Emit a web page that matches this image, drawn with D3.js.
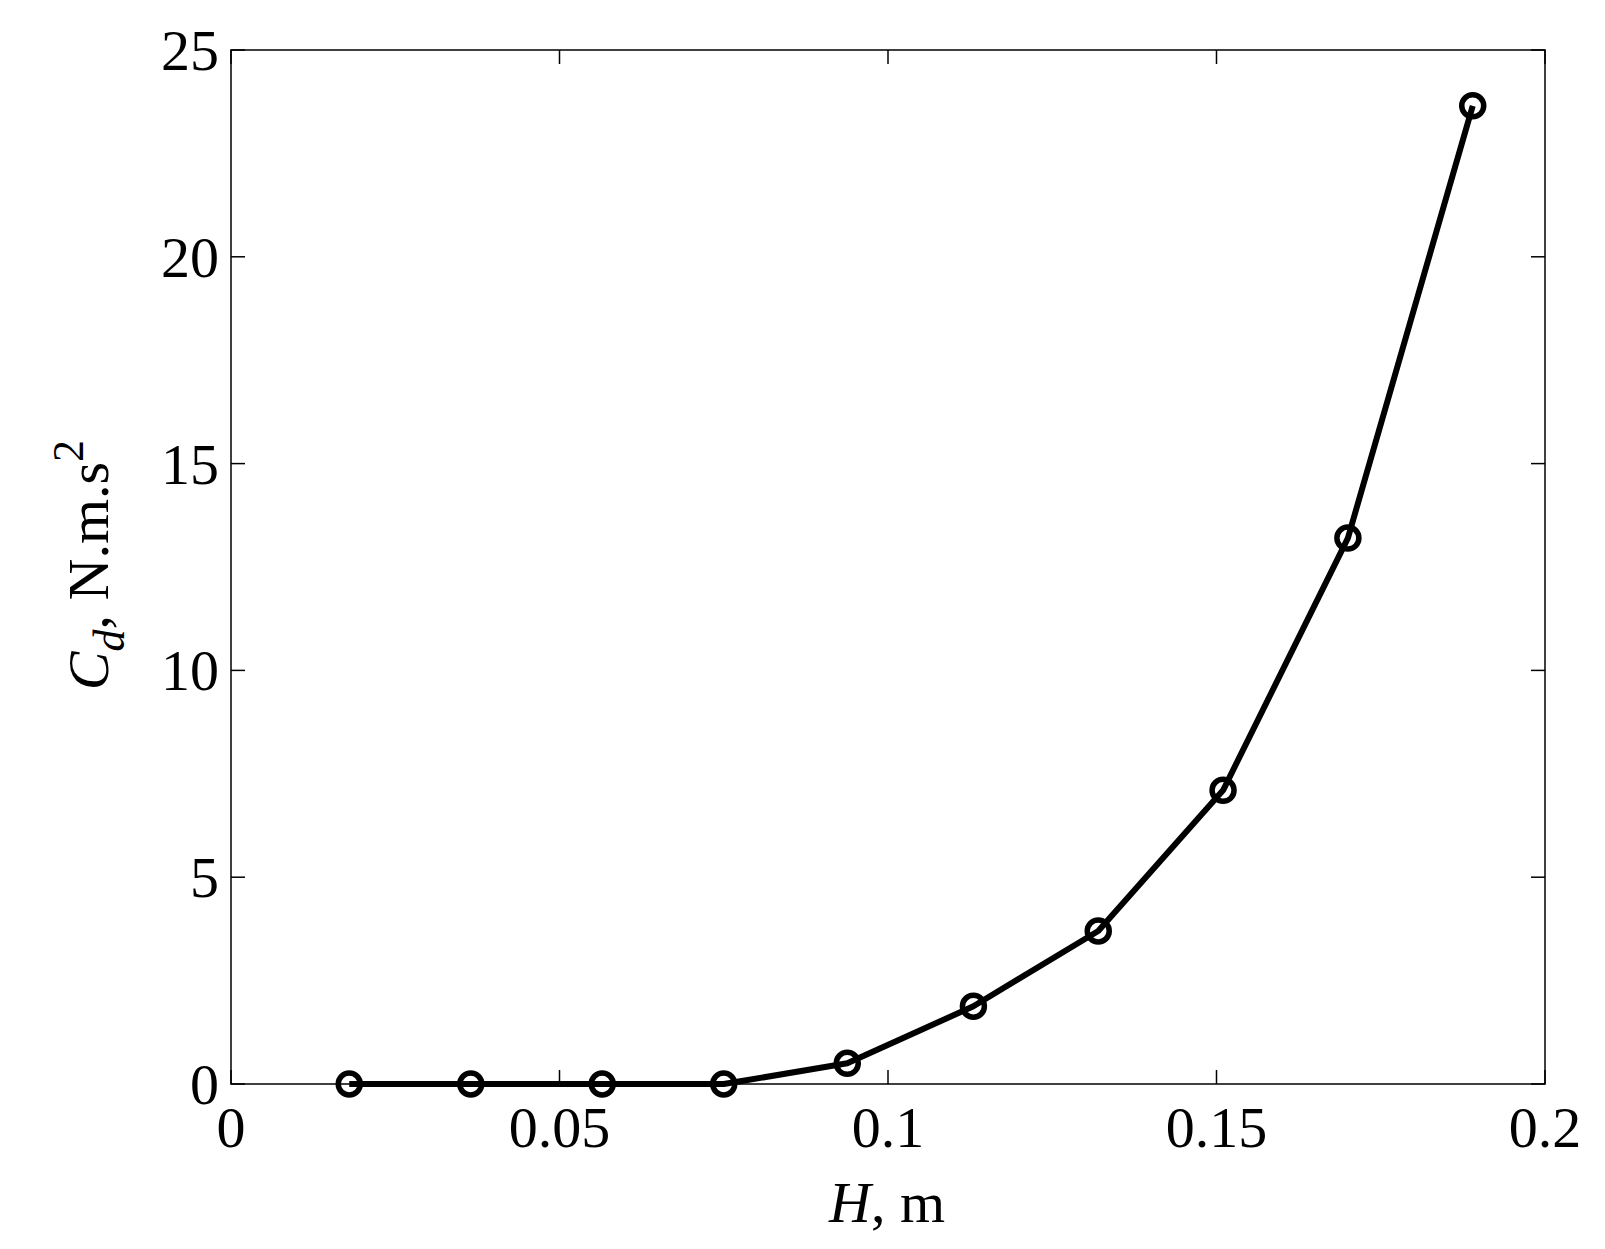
<!DOCTYPE html>
<html><head><meta charset="utf-8">
<script src="https://cdn.jsdelivr.net/npm/d3@7"></script>
<style>body{margin:0;background:#fff}</style></head>
<body><svg id="c" width="1605" height="1249"></svg>
<script>
const hValues=[0.018,0.0365,0.0565,0.075,0.0938,0.113,0.132,0.151,0.170,0.189];
const cdValues=[0,0,0,0,0.5,1.88,3.7,7.1,13.2,23.65];
const xTicks=[0,0.05,0.1,0.15,0.2];
const yTicks=[0,5,10,15,20,25];
const svg=d3.select("#c");
const L=231,R=1545,T=50,B=1084;
const x=d3.scaleLinear().domain([0,0.2]).range([L,R]);
const y=d3.scaleLinear().domain([0,25]).range([B,T]);
const font="'Liberation Serif','Times New Roman',serif";
const fs=58;
svg.append("rect").attr("x",L).attr("y",T).attr("width",R-L).attr("height",B-T).attr("fill","none").attr("stroke","#000").attr("stroke-width",1.5);
const tl=14;
xTicks.forEach(t=>{
 svg.append("line").attr("x1",x(t)).attr("x2",x(t)).attr("y1",B).attr("y2",B-tl).attr("stroke","#000").attr("stroke-width",1.5);
 svg.append("line").attr("x1",x(t)).attr("x2",x(t)).attr("y1",T).attr("y2",T+tl).attr("stroke","#000").attr("stroke-width",1.5);
 svg.append("text").attr("x",x(t)).attr("y",B+63).attr("text-anchor","middle").attr("font-family",font).attr("font-size",fs).text(t);
});
yTicks.forEach(t=>{
 svg.append("line").attr("x1",L).attr("x2",L+tl).attr("y1",y(t)).attr("y2",y(t)).attr("stroke","#000").attr("stroke-width",1.5);
 svg.append("line").attr("x1",R).attr("x2",R-tl).attr("y1",y(t)).attr("y2",y(t)).attr("stroke","#000").attr("stroke-width",1.5);
 svg.append("text").attr("x",L-12).attr("y",y(t)+20).attr("text-anchor","end").attr("font-family",font).attr("font-size",fs).text(t);
});
const data=hValues.map((h,i)=>[h,cdValues[i]]);
svg.append("path").datum(data).attr("d",d3.line().x(d=>x(d[0])).y(d=>y(d[1]))).attr("fill","none").attr("stroke","#000").attr("stroke-width",6).attr("stroke-linejoin","round");
svg.selectAll("circle").data(data).join("circle").attr("cx",d=>x(d[0])).attr("cy",d=>y(d[1])).attr("r",11).attr("fill","none").attr("stroke","#000").attr("stroke-width",5.5);
svg.append("text").attr("x",887).attr("y",1222).attr("text-anchor","middle").attr("font-family",font).attr("font-size",fs)
 .html('<tspan font-style="italic">H</tspan>, m');
svg.append("text").attr("transform","translate(108,565) rotate(-90)").attr("text-anchor","middle").attr("font-family",font).attr("font-size",fs)
 .html('<tspan font-style="italic">C</tspan><tspan font-style="italic" dy="16" font-size="44">d</tspan><tspan dy="-16">, N.m.s</tspan><tspan dy="-25" font-size="44">2</tspan>');
</script></body></html>
